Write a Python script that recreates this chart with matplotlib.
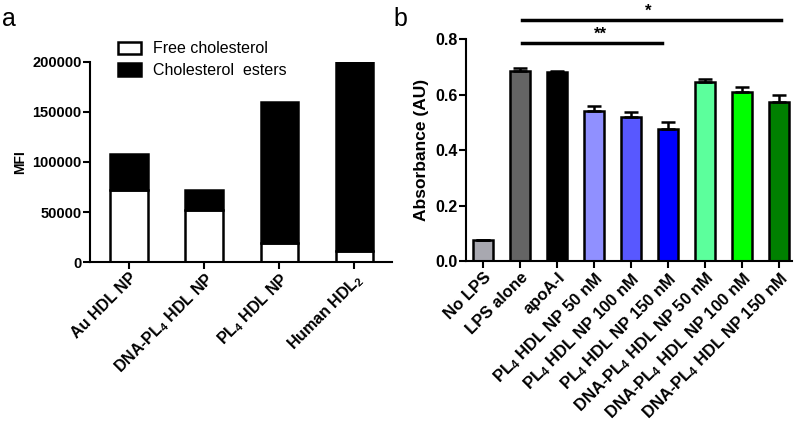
import matplotlib.pyplot as plt
import numpy as np
from matplotlib.patches import Patch

plt.rcParams['font.family'] = ['Liberation Sans', 'DejaVu Sans']
plt.rcParams['mathtext.default'] = 'regular'

# panel a
particules = ["Au HDL NP", "DNA-PL$_4$ HDL NP", "PL$_4$ HDL NP", "Human HDL$_2$"]
chol_libre = [72000, 52000, 19000, 11000]
chol_total = [108000, 72000, 160000, 200000]

# panel b
traitements = ["No LPS", "LPS alone", "apoA-I",
               "PL$_4$ HDL NP 50 nM", "PL$_4$ HDL NP 100 nM", "PL$_4$ HDL NP 150 nM",
               "DNA-PL$_4$ HDL NP 50 nM", "DNA-PL$_4$ HDL NP 100 nM", "DNA-PL$_4$ HDL NP 150 nM"]
absorbance = [0.075, 0.685, 0.683, 0.540, 0.518, 0.475, 0.645, 0.608, 0.574]
erreur = [0.003, 0.010, 0.003, 0.017, 0.018, 0.027, 0.010, 0.020, 0.025]
couleurs = ["#a8a8b0", "#646464", "#000000", "#9090ff", "#5858ff", "#0000ff",
            "#5cff9c", "#00ff00", "#008000"]

fig = plt.figure(figsize=(8, 4.24), dpi=100)

# ---- a ----
ax1 = fig.add_axes([0.1125, 0.382, 0.3775, 0.472])
x = np.arange(len(particules))
esters = [t - l for t, l in zip(chol_total, chol_libre)]
ax1.bar(x, chol_libre, width=0.5, color="white", edgecolor="black", linewidth=1.8)
ax1.bar(x, esters, bottom=chol_libre, width=0.5, color="black", edgecolor="black", linewidth=1.8)
ax1.set_xlim(-0.52, 3.5)
ax1.set_ylim(0, 200000)
ax1.set_yticks([0, 50000, 100000, 150000, 200000])
ax1.set_xticks(x)
ax1.set_xticklabels(particules, rotation=45, ha="right", rotation_mode="anchor",
                    fontsize=11.5, fontweight="bold")
for lab in ax1.get_yticklabels():
    lab.set_fontweight("bold")
    lab.set_fontsize(10.5)
ax1.set_ylabel("MFI", fontsize=10, fontweight="bold", labelpad=4)
ax1.legend(handles=[Patch(facecolor="white", edgecolor="black", linewidth=1.8),
                    Patch(facecolor="black", edgecolor="black", linewidth=1.8)],
           labels=["Free cholesterol", "Cholesterol  esters"],
           loc="upper left", bbox_to_anchor=(0.07, 1.135), frameon=False,
           fontsize=11.5, handlelength=1.45, handleheight=0.8, labelspacing=0.42,
           handletextpad=0.8, borderaxespad=0)

# ---- b ----
ax2 = fig.add_axes([0.583, 0.384, 0.407, 0.524])
x2 = np.arange(len(traitements))
ax2.bar(x2, absorbance, width=0.55, color=couleurs, edgecolor="black", linewidth=1.8,
        yerr=[np.zeros(len(erreur)), erreur],
        error_kw=dict(ecolor="black", elinewidth=1.8, capsize=5, capthick=1.8))
ax2.set_xlim(-0.45, 8.36)
ax2.set_ylim(0, 0.8)
ax2.set_yticks([0.0, 0.2, 0.4, 0.6, 0.8])
ax2.set_yticklabels(["0.0", "0.2", "0.4", "0.6", "0.8"], fontsize=11.5, fontweight="bold")
ax2.set_xticks(x2)
ax2.set_xticklabels(traitements, rotation=45, ha="right", rotation_mode="anchor",
                    fontsize=12, fontweight="bold")
ax2.set_ylabel("Absorbance (AU)", fontsize=12.5, fontweight="bold", labelpad=5)

# barres de signification
ax2.plot([1.05, 8.05], [0.868, 0.868], color="black", lw=2.5, clip_on=False)
ax2.plot([1.05, 4.85], [0.785, 0.785], color="black", lw=2.5, clip_on=False)
ax2.text(4.46, 0.873, "*", ha="center", va="bottom", fontsize=12, fontweight="bold")
ax2.text(3.17, 0.79, "**", ha="center", va="bottom", fontsize=12, fontweight="bold")

for ax in (ax1, ax2):
    ax.spines["top"].set_visible(False)
    ax.spines["right"].set_visible(False)
    ax.spines["left"].set_linewidth(1.5)
    ax.spines["bottom"].set_linewidth(1.5)
    ax.tick_params(width=1.5, length=5, pad=1)

fig.text(0.002, 0.955, "a", fontsize=18, va="center")
fig.text(0.492, 0.955, "b", fontsize=18, va="center")

fig.savefig("out.png", dpi=100)
